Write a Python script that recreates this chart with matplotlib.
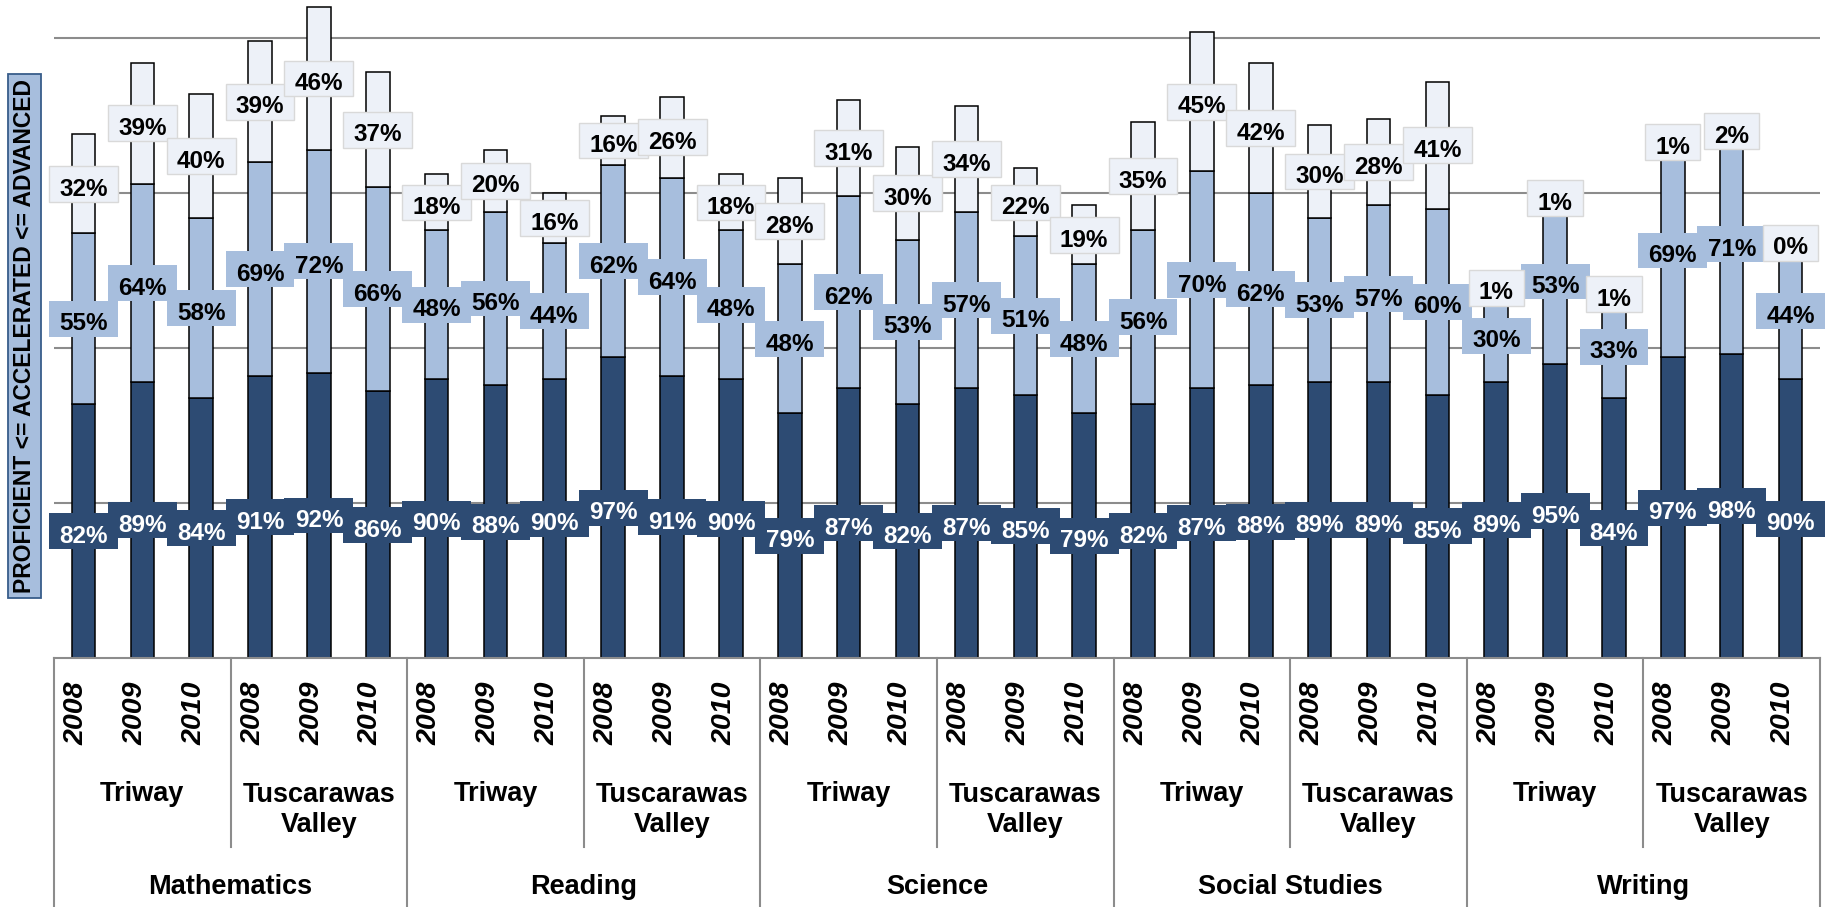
import numpy as np
import matplotlib
matplotlib.use("Agg")
import matplotlib.pyplot as plt
from matplotlib import font_manager
from matplotlib.path import Path

plt.rcParams["font.family"] = ["Liberation Sans", "DejaVu Sans"]

# data
subjects = ["Mathematics", "Reading", "Science", "Social Studies", "Writing"]
districts = ["Triway", "Tuscarawas\nValley"]
years = ["2008", "2009", "2010"]

proficient = [82, 89, 84, 91, 92, 86,
              90, 88, 90, 97, 91, 90,
              79, 87, 82, 87, 85, 79,
              82, 87, 88, 89, 89, 85,
              89, 95, 84, 97, 98, 90]
accelerated = [55, 64, 58, 69, 72, 66,
               48, 56, 44, 62, 64, 48,
               48, 62, 53, 57, 51, 48,
               56, 70, 62, 53, 57, 60,
               30, 53, 33, 69, 71, 44]
advanced = [32, 39, 40, 39, 46, 37,
            18, 20, 16, 16, 26, 18,
            28, 31, 30, 34, 22, 19,
            35, 45, 42, 30, 28, 41,
            1, 1, 1, 1, 2, 0]

dark = "#2D4B73"
mid = "#A7BEDD"
light = "#EDF1F8"
axis_gray = "#8C8C8C"

# the year labels in the original are drawn in a condensed face
names = {f.name for f in font_manager.fontManager.ttflist}
if "Liberation Sans Narrow" in names:
    year_family, year_size = ["Liberation Sans Narrow"], 23.5
else:
    year_family, year_size = ["Liberation Sans"], 20.5


def label_box(x0, y0, width, height, mutation_size):
    # wide box, text sitting a little low, like Excel data labels
    l = x0 - 0.42 * mutation_size
    r = x0 + width + 0.42 * mutation_size
    b = y0 - 0.05 * mutation_size
    t = y0 + height + 0.48 * mutation_size
    return Path([(l, b), (r, b), (r, t), (l, t), (l, b)], closed=True)


W, H = 1829, 907
fig = plt.figure(figsize=(W / 100, H / 100), dpi=100)
ax = fig.add_axes([54 / W, 249 / H, 1766 / W, 658 / H])

n = len(proficient)
x = np.arange(n)
p = np.array(proficient)
a = np.array(accelerated)
d = np.array(advanced)

bw = 0.40
ax.bar(x, p, bw, color=dark, edgecolor="black", linewidth=1.1, zorder=2)
ax.bar(x, a, bw, bottom=p, color=mid, edgecolor="black", linewidth=1.1, zorder=2)
ax.bar(x, d, bw, bottom=p + a, color=light, edgecolor="black", linewidth=1.1, zorder=2)

ax.set_xlim(-0.5, n - 0.5)
ax.set_ylim(0, 212.3)
ax.set_yticks([50, 100, 150, 200])
ax.set_yticklabels([])
ax.set_xticks([])
ax.tick_params(length=0)
ax.grid(axis="y", color=axis_gray, linewidth=1.5)
ax.set_axisbelow(True)
for s in ["left", "right", "top"]:
    ax.spines[s].set_visible(False)
ax.spines["bottom"].set_color(axis_gray)
ax.spines["bottom"].set_linewidth(1.5)

# data labels (centered in each segment)
label_kw = dict(ha="center", va="center", fontsize=17.5, fontweight="bold",
                xytext=(0, -3.8), textcoords="offset points")
z = 5
for i in range(n):
    ax.annotate(f"{p[i]}%", (x[i], p[i] / 2), color="white", zorder=z,
                bbox=dict(boxstyle=label_box, fc=dark, ec="none"), **label_kw)
    z += 0.01
for i in range(n):
    ax.annotate(f"{a[i]}%", (x[i], p[i] + a[i] / 2), color="black", zorder=z,
                bbox=dict(boxstyle=label_box, fc=mid, ec="none"), **label_kw)
    z += 0.01
for i in range(n):
    ax.annotate(f"{d[i]}%", (x[i], p[i] + a[i] + d[i] / 2), color="black",
                zorder=z,
                bbox=dict(boxstyle=label_box, fc=light, ec="#D9D9D9", lw=1.0),
                **label_kw)
    z += 0.01

# multi-level category axis
tr = ax.get_xaxis_transform()
px = 1 / 658.0
for i in range(n):
    ax.annotate(years[i % 3], (x[i], -55 * px), xycoords=tr,
                xytext=(-5, 0), textcoords="offset points", rotation=90,
                ha="center", va="center", fontsize=year_size,
                fontweight="bold", fontstyle="italic", family=year_family)

for g in range(len(subjects) * len(districts)):
    cx = g * 3 + 1
    name = districts[g % 2]
    cy = -136 * px if "\n" not in name else -152 * px
    ax.text(cx, cy, name, transform=tr, ha="center", va="center",
            fontsize=19.5, fontweight="bold", linespacing=1.15)
    if g % 2 == 1:
        bx = g * 3 - 0.5
        ax.plot([bx, bx], [0, -189 * px], transform=tr, color=axis_gray,
                lw=1.5, clip_on=False)

for k, subj in enumerate(subjects):
    ax.text(k * 6 + 2.5, -229 * px, subj, transform=tr, ha="center",
            va="center", fontsize=19.5, fontweight="bold")
for k in range(len(subjects) + 1):
    bx = k * 6 - 0.5
    ax.plot([bx, bx], [0, -260 * px], transform=tr, color=axis_gray,
            lw=1.5, clip_on=False)

# y axis title box
fig.text(24.5 / W, (H - 336) / H, "PROFICIENT <= ACCELERATED <= ADVANCED",
         rotation=90, ha="center", va="center", fontsize=16.5,
         fontweight="bold",
         bbox=dict(boxstyle="square,pad=0.22", fc=mid, ec="#385D8A", lw=1.3))

fig.savefig("out.png", dpi=100)
